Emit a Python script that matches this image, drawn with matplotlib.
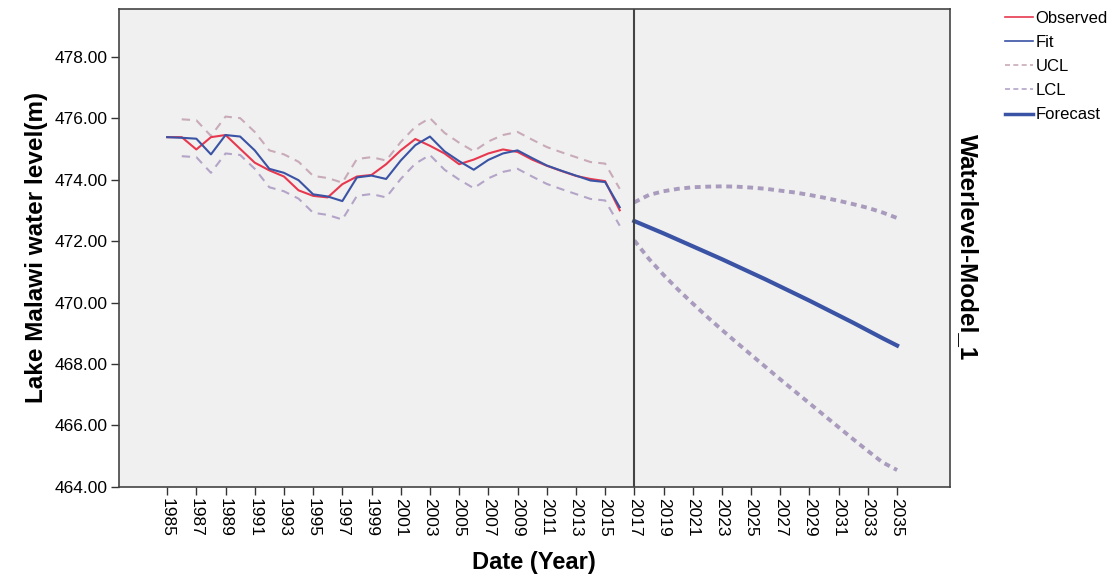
import numpy as np
import matplotlib
matplotlib.use("Agg")
import matplotlib.pyplot as plt
from matplotlib.lines import Line2D

plt.rcParams['font.family'] = ['Liberation Sans', 'DejaVu Sans']

# historical period
years_hist = list(range(1985, 2017))
observed = [475.38, 475.38, 474.98, 475.38, 475.45, 475.00, 474.55, 474.30,
            474.10, 473.65, 473.47, 473.42, 473.85, 474.10, 474.15, 474.50,
            474.95, 475.32, 475.10, 474.85, 474.50, 474.65, 474.85, 474.98,
            474.90, 474.65, 474.45, 474.28, 474.12, 474.02, 473.95, 473.00]
fit = [475.38, 475.36, 475.33, 474.82, 475.45, 475.40, 474.95, 474.35,
       474.22, 473.98, 473.52, 473.45, 473.30, 474.07, 474.13, 474.02,
       474.62, 475.12, 475.40, 474.92, 474.60, 474.32, 474.64, 474.85,
       474.95, 474.70, 474.46, 474.29, 474.13, 473.97, 473.92, 473.10]

years_cl = list(range(1986, 2017))
ucl_hist = [475.96, 475.93, 475.42, 476.05, 476.00, 475.55, 474.95, 474.82,
            474.58, 474.12, 474.05, 473.90, 474.67, 474.73, 474.62, 475.22,
            475.72, 476.00, 475.52, 475.20, 474.92, 475.24, 475.45, 475.55,
            475.30, 475.06, 474.89, 474.73, 474.57, 474.52, 473.70]
lcl_hist = [474.76, 474.73, 474.22, 474.85, 474.80, 474.35, 473.75, 473.62,
            473.38, 472.92, 472.85, 472.70, 473.47, 473.53, 473.42, 474.02,
            474.52, 474.80, 474.32, 474.00, 473.72, 474.04, 474.25, 474.35,
            474.10, 473.86, 473.69, 473.53, 473.37, 473.32, 472.50]

# forecast period
years_fc = list(range(2017, 2036))
forecast = [472.65, 472.45, 472.25, 472.04, 471.83, 471.62, 471.41, 471.19,
            470.97, 470.75, 470.52, 470.29, 470.06, 469.82, 469.58, 469.34,
            469.09, 468.84, 468.60]
ucl_fc = [473.26, 473.50, 473.62, 473.70, 473.75, 473.77, 473.78, 473.77,
          473.74, 473.70, 473.64, 473.58, 473.50, 473.41, 473.31, 473.20,
          473.08, 472.93, 472.75]
lcl_fc = [472.02, 471.42, 470.90, 470.42, 469.97, 469.53, 469.11, 468.70,
          468.30, 467.90, 467.50, 467.11, 466.72, 466.33, 465.94, 465.55,
          465.17, 464.80, 464.55]

x_ticks = list(range(1985, 2036, 2))
y_ticks = [464, 466, 468, 470, 472, 474, 476, 478]

RED = "#e8384f"
BLUE = "#3a53a4"
UCL_C = "#c9aab8"
LCL_C = "#b3a4c8"
FC_CL = "#a99bbd"

fig = plt.figure(figsize=(11.15, 5.79), dpi=100)
ax = fig.add_axes([0.1067, 0.159, 0.745, 0.826])
ax.set_facecolor("#f0f0f0")

ax.plot(years_cl, ucl_hist, color=UCL_C, lw=1.5, dashes=(4, 3))
ax.plot(years_cl, lcl_hist, color=LCL_C, lw=1.5, dashes=(4, 3))
ax.plot(years_hist, observed, color=RED, lw=1.5)
ax.plot(years_hist, fit, color=BLUE, lw=1.5)

ax.plot(years_fc, ucl_fc, color=FC_CL, lw=2.8, dashes=(1.5, 1.2))
ax.plot(years_fc, lcl_fc, color=FC_CL, lw=2.8, dashes=(1.5, 1.2))
ax.plot(years_fc, forecast, color=BLUE, lw=3)

ax.axvline(2017, color="#444444", lw=1.5)

ax.set_xlim(1981.7, 2038.6)
ax.set_ylim(464, 479.56)
ax.set_xticks(x_ticks)
ax.set_xticklabels([str(y) for y in x_ticks], rotation=270, fontsize=12.5)
ax.set_yticks(y_ticks)
ax.set_yticklabels([f"{v:.2f}" for v in y_ticks], fontsize=12.5)
ax.tick_params(direction="out", length=6, width=1, color="#333333", pad=2)
for s in ax.spines.values():
    s.set_color("#444444")
    s.set_linewidth(1.2)

ax.set_ylabel("Lake Malawi water level(m)", fontsize=17.5, fontweight="bold", labelpad=5)
ax.set_xlabel("Date (Year)", fontsize=17, fontweight="bold", labelpad=10)

fig.text(0.868, 0.573, "Waterlevel-Model_1", rotation=270, fontsize=17.5,
         fontweight="bold", ha="center", va="center")

handles = [Line2D([], [], color=RED, lw=1.2),
           Line2D([], [], color=BLUE, lw=1.2),
           Line2D([], [], color=UCL_C, lw=1.2, dashes=(3, 2)),
           Line2D([], [], color=LCL_C, lw=1.2, dashes=(3, 2)),
           Line2D([], [], color=BLUE, lw=2.5)]
fig.legend(handles, ["Observed", "Fit", "UCL", "LCL", "Forecast"],
           loc="upper left", bbox_to_anchor=(0.895, 0.993), frameon=False,
           fontsize=12, handlelength=1.7, handletextpad=0.15, labelspacing=0.55,
           borderaxespad=0)

fig.savefig("out.png", dpi=100)
